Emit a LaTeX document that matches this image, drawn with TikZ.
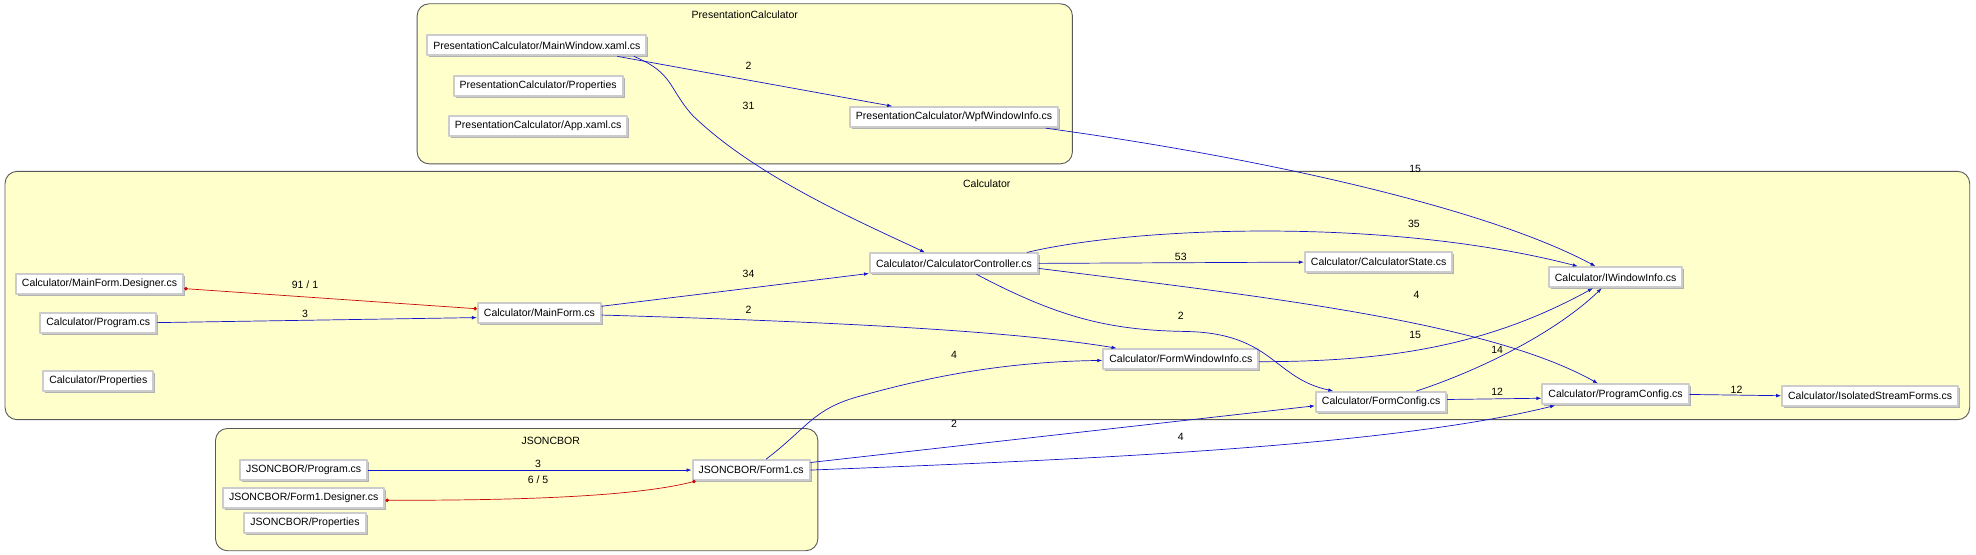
\documentclass[tikz,border=0pt]{standalone}
\usepackage{fontspec}
\setmainfont{Liberation Sans}
\usetikzlibrary{arrows.meta,shadows}
\definecolor{nenkhung}{RGB}{255,255,204}
\definecolor{xanh}{RGB}{20,20,200}
\definecolor{do}{RGB}{200,10,10}
\begin{document}
\begin{tikzpicture}[x=1.26pt, y=-1.26pt, font=\fontsize{10.5}{12}\selectfont, line join=round, line cap=round, >={Latex[length=5pt,width=3.6pt]},
	tep/.style={draw=black!20, line width=2pt, fill=white, inner xsep=6pt, inner ysep=3pt, minimum height=20pt, general shadow={fill=black!30, shadow xshift=2pt, shadow yshift=-2pt}},
	cum/.style={draw=black!65, fill=nenkhung, rounded corners=12pt, line width=0.9pt},
	phu/.style={xanh, ->, line width=0.7pt},
	hai/.style={do, {Circle[length=3.6pt]}-{Circle[length=3.6pt]}, line width=0.7pt},
	so/.style={inner sep=1pt}]
	\useasboundingbox (0,0) rectangle (1568,440);
	% cac cum
	\draw[cum] (331,3) rectangle (851,130);
	\draw[cum] (4,136) rectangle (1563,333);
	\draw[cum] (171,340) rectangle (649,437);
	\node (tPC) at (591,12) {PresentationCalculator};
	\node (tC) at (783,146) {Calculator};
	\node (tJ) at (437,350) {JSONCBOR};
	% PresentationCalculator
	\node[tep] (pcMain) at (426,36) {PresentationCalculator/MainWindow.xaml.cs};
	\node[tep] (pcProps) at (427,68) {PresentationCalculator/Properties};
	\node[tep] (pcApp) at (427,100) {PresentationCalculator/App.xaml.cs};
	\node[tep] (pcWpf) at (757,93) {PresentationCalculator/WpfWindowInfo.cs};
	% Calculator
	\node[tep] (cDesigner) at (79,225) {Calculator/MainForm.Designer.cs};
	\node[tep] (cProgram) at (78,256) {Calculator/Program.cs};
	\node[tep] (cProps) at (78,302) {Calculator/Properties};
	\node[tep] (cMainForm) at (428,248) {Calculator/MainForm.cs};
	\node[tep] (cCtrl) at (757,209) {Calculator/CalculatorController.cs};
	\node[tep] (cState) at (1094,208) {Calculator/CalculatorState.cs};
	\node[tep] (cIWin) at (1282,220) {Calculator/IWindowInfo.cs};
	\node[tep] (cFormWin) at (937,285) {Calculator/FormWindowInfo.cs};
	\node[tep] (cFormCfg) at (1096,319) {Calculator/FormConfig.cs};
	\node[tep] (cProgCfg) at (1282,313) {Calculator/ProgramConfig.cs};
	\node[tep] (cIso) at (1484,314) {Calculator/IsolatedStreamForms.cs};
	% JSONCBOR
	\node[tep] (jProgram) at (241,373) {JSONCBOR/Program.cs};
	\node[tep] (jDesigner) at (241,395) {JSONCBOR/Form1.Designer.cs};
	\node[tep] (jProps) at (242,415) {JSONCBOR/Properties};
	\node[tep] (jForm1) at (596,373) {JSONCBOR/Form1.cs};
	% phu thuoc
	\draw[phu] ([shift={(64,0)}]pcMain.south) -- ([shift={(-49,0)}]pcWpf.north);
	\draw[phu] ([shift={(77,0)}]pcMain.south) .. controls (535,58) and (530,70) .. (550,92) .. controls (600,140) and (680,175) .. ([shift={(-23,0)}]cCtrl.north);
	\draw[phu] ([shift={(73,0)}]pcWpf.south) .. controls (1000,125) and (1180,165) .. ([shift={(-16,0)}]cIWin.north);
	\draw[phu] ([shift={(58,0)}]cCtrl.north) .. controls (900,180) and (1100,172) .. ([shift={(-30,0)}]cIWin.north);
	\draw[phu] (cCtrl.east) -- (cState.west);
	\draw[phu] ([shift={(0,4)}]cCtrl.east) .. controls (1000,235) and (1180,255) .. ([shift={(-14,0)}]cProgCfg.north);
	\draw[phu] ([shift={(18,0)}]cCtrl.south) .. controls (840,252) and (880,262) .. (940,263) .. controls (1010,264) and (1010,300) .. ([shift={(-38,0)}]cFormCfg.north);
	\draw[hai] ([shift={(0,4)}]cDesigner.east) -- ([shift={(0,-3)}]cMainForm.west);
	\draw[phu] (cProgram.east) -- ([shift={(0,4)}]cMainForm.west);
	\draw[phu] ([shift={(0,-5)}]cMainForm.east) -- ([shift={(0,8)}]cCtrl.west);
	\draw[phu] ([shift={(0,2)}]cMainForm.east) .. controls (650,255) and (800,262) .. ([shift={(-51,0)}]cFormWin.north);
	\draw[phu] ([shift={(0,2)}]cFormWin.east) .. controls (1100,287) and (1180,275) .. ([shift={(-18,0)}]cIWin.south);
	\draw[phu] ([shift={(28,0)}]cFormCfg.north) .. controls (1165,297) and (1230,268) .. ([shift={(-11,0)}]cIWin.south);
	\draw[phu] ([shift={(0,-2)}]cFormCfg.east) -- ([shift={(0,3)}]cProgCfg.west);
	\draw[phu] (cProgCfg.east) -- (cIso.west);
	\draw[phu] ([shift={(12,0)}]jForm1.north) .. controls (640,340) and (645,325) .. (680,315) .. controls (740,298) and (800,287) .. ([shift={(0,1)}]cFormWin.west);
	\draw[phu] ([shift={(0,-6)}]jForm1.east) -- ([shift={(0,3)}]cFormCfg.west);
	\draw[phu] (jForm1.east) .. controls (850,365) and (1100,355) .. ([shift={(-48,0)}]cProgCfg.south);
	\draw[phu] (jProgram.east) -- (jForm1.west);
	\draw[hai] ([shift={(0,2)}]jDesigner.east) .. controls (400,397) and (500,395) .. ([shift={(-44,0)}]jForm1.south);
	% nhan
	\node[so] (l1) at (594,52) {2};
	\node[so] (l2) at (594,84) {31};
	\node[so] (l3) at (1123,134) {15};
	\node[so] (l4) at (1122,178) {35};
	\node[so] (l5) at (937,204) {53};
	\node[so] (l6) at (1124,234) {4};
	\node[so] (l7) at (937,251) {2};
	\node[so] (l8) at (242,226) {91 / 1};
	\node[so] (l9) at (242,249) {3};
	\node[so] (l10) at (594,217) {34};
	\node[so] (l11) at (594,246) {2};
	\node[so] (l12) at (1123,266) {15};
	\node[so] (l13) at (1188,278) {14};
	\node[so] (l14) at (1188,311) {12};
	\node[so] (l15) at (1378,309) {12};
	\node[so] (l16) at (757,282) {4};
	\node[so] (l17) at (757,336) {2};
	\node[so] (l18) at (937,347) {4};
	\node[so] (l19) at (427,368) {3};
	\node[so] (l20) at (427,381) {6 / 5};
\end{tikzpicture}
\end{document}
